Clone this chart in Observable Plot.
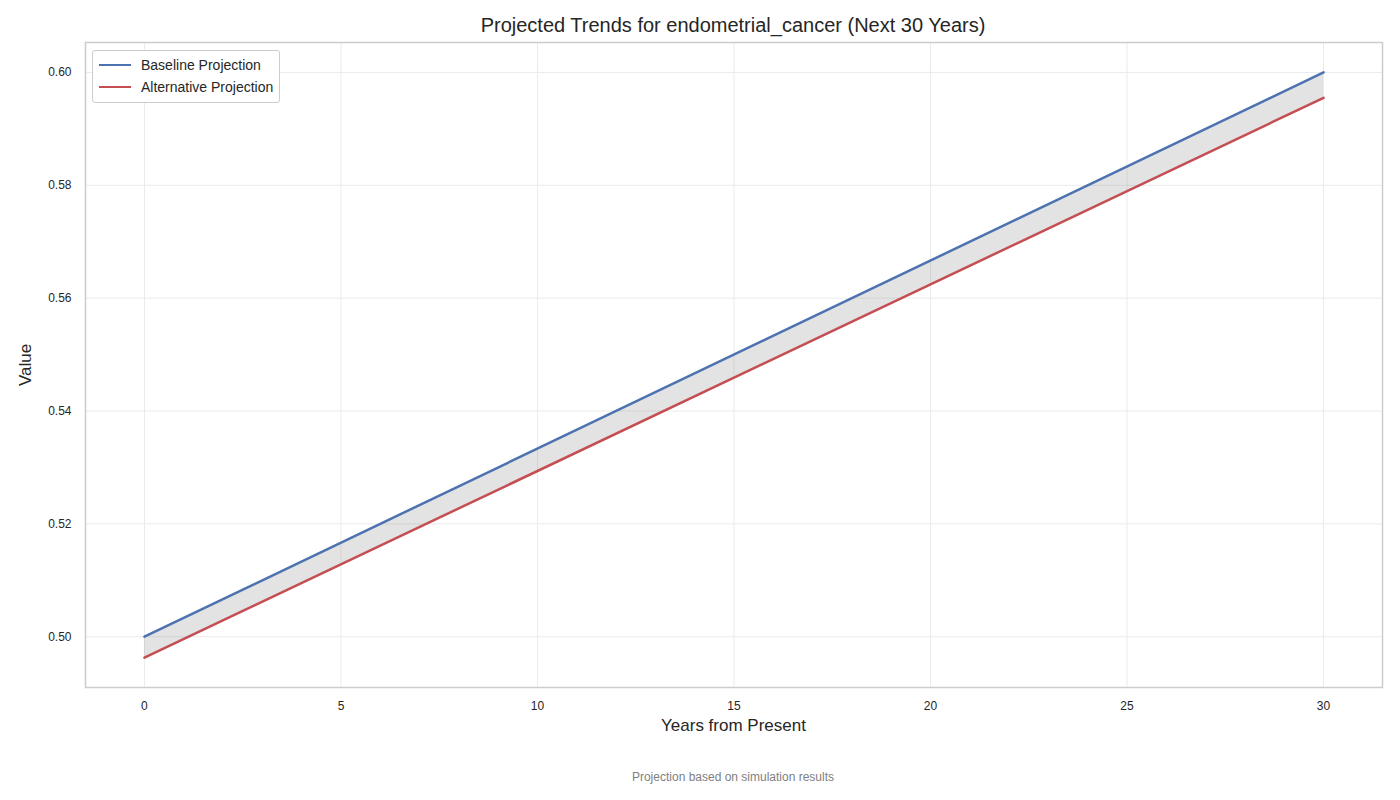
<!DOCTYPE html>
<html>
<head>
<meta charset="utf-8">
<script src="https://cdn.jsdelivr.net/npm/d3@7"></script>
<script src="https://cdn.jsdelivr.net/npm/@observablehq/plot@0.6"></script>
<style>
  body { margin: 0; background: white; font-family: "Liberation Sans", Arial, sans-serif; }
  #wrap { position: relative; width: 1400px; height: 800px; }
  .t { position: absolute; color: #262626; white-space: nowrap; }
  #legend { position: absolute; left: 92px; top: 50px; border: 1px solid #ccc; border-radius: 3px; background: white; padding: 3px 6px 4px 6px; font-size: 14px; color: #262626; }
  #legend div { display: flex; align-items: center; height: 22px; }
  #legend span.sw { display: inline-block; width: 32px; height: 2.5px; margin-right: 10px; }
</style>
</head>
<body>
<div id="wrap">
  <div id="chart"></div>
  <div class="t" style="left:0;width:1466px;text-align:center;top:14px;font-size:20px;">Projected Trends for endometrial_cancer (Next 30 Years)</div>
  <div class="t" style="left:85px;width:1297px;text-align:center;top:716px;font-size:17px;">Years from Present</div>
  <div class="t" style="left:26px;top:365px;font-size:17px;transform:translate(-50%,-50%) rotate(-90deg);">Value</div>
  <div class="t" style="left:0;width:1466px;text-align:center;top:770px;font-size:12px;color:#808080;">Projection based on simulation results</div>
  <div id="legend">
    <div><span class="sw" style="background:#4c72b0"></span>Baseline Projection</div>
    <div><span class="sw" style="background:#c44e52"></span>Alternative Projection</div>
  </div>
</div>
<script>
const years = [0, 30];
const baseline = [0.500, 0.600];
const alternative = [0.4963, 0.5955];
const xTicks = [0, 5, 10, 15, 20, 25, 30];
const yTicks = [0.50, 0.52, 0.54, 0.56, 0.58, 0.60];

const rows = years.map((y, i) => ({year: y, base: baseline[i], alt: alternative[i]}));

const chart = Plot.plot({
  width: 1400,
  height: 800,
  marginTop: 42,
  marginBottom: 113,
  marginLeft: 85,
  marginRight: 18,
  style: {fontFamily: "Liberation Sans, Arial, sans-serif", fontSize: "12px", color: "#262626"},
  x: {domain: [-1.5, 31.5], ticks: xTicks, label: null, tickSize: 0, tickPadding: 14},
  y: {domain: [0.491, 0.6053], ticks: yTicks, tickFormat: d3.format(".2f"), label: null, tickSize: 0, tickPadding: 14},
  marks: [
    Plot.gridX(xTicks, {stroke: "#ebebeb", strokeOpacity: 1}),
    Plot.gridY(yTicks, {stroke: "#ebebeb", strokeOpacity: 1}),
    Plot.areaY(rows, {x: "year", y1: "alt", y2: "base", fill: "#808080", fillOpacity: 0.22}),
    Plot.line(rows, {x: "year", y: "base", stroke: "#4c72b0", strokeWidth: 2.5}),
    Plot.line(rows, {x: "year", y: "alt", stroke: "#c44e52", strokeWidth: 2.5}),
    Plot.axisX(xTicks, {tickSize: 0, tickPadding: 14, label: null}),
    Plot.axisY(yTicks, {tickSize: 0, tickPadding: 14, tickFormat: d3.format(".2f"), label: null}),
    Plot.frame({stroke: "#cccccc", strokeWidth: 1.5})
  ]
});
d3.select("#chart").append(() => chart);
</script>
</body>
</html>
